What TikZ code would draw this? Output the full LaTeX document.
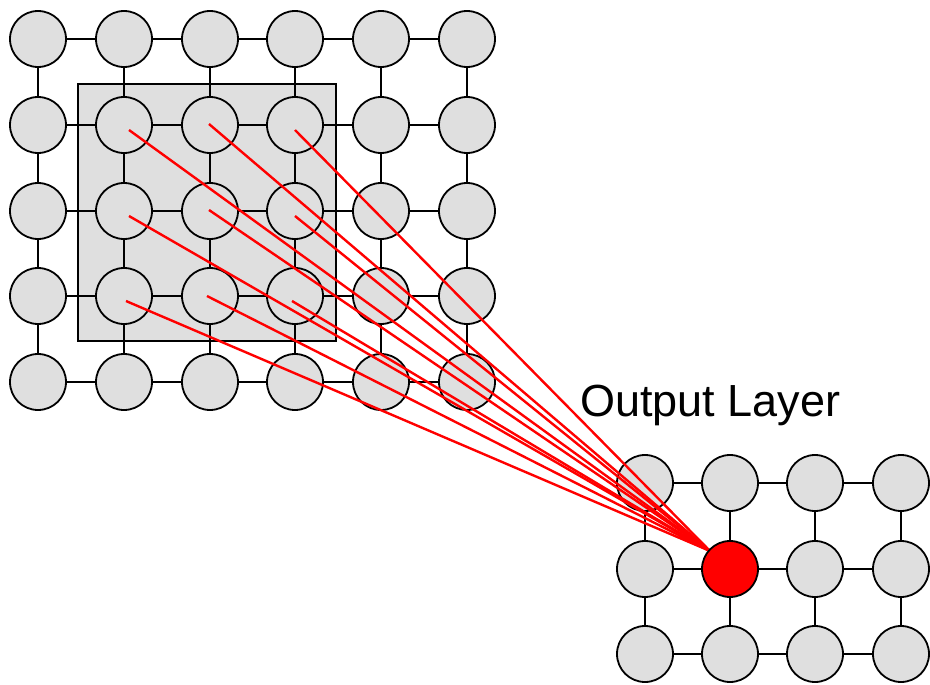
\documentclass[tikz,border=0pt]{standalone}
\usepackage{fontspec}
\setmainfont{Liberation Sans}
\pgfdeclarelayer{bg}
\pgfdeclarelayer{fg}
\pgfdeclarelayer{top}
\pgfsetlayers{bg,main,fg,top}
\definecolor{cellgray}{HTML}{DFDFDF}
\begin{document}
\begin{tikzpicture}[x=1pt,y=-1pt,
  cell/.style={circle,draw=black,fill=cellgray,line width=1.8pt,minimum size=56pt,inner sep=0pt},
  hot/.style={cell,fill=red},
  link/.style={draw=black,line width=1.8pt},
  ray/.style={draw=red,line width=2.4pt},
  frame/.style={draw=black,fill=cellgray,line width=2.4pt}]
\useasboundingbox (0,0) rectangle (930,685);

% receptive field box
\begin{pgfonlayer}{bg}
\path[frame] (78,84) rectangle (336,341);
\end{pgfonlayer}

% input layer nodes
\foreach \c/\x in {0/38,1/124,2/210,3/295,4/381,5/467}
  \foreach \r/\y in {0/39,1/125,2/211,3/296,4/382}
    \node[cell] (i\c\r) at (\x,\y) {};

% output layer nodes
\foreach \c/\x in {0/645,1/730,2/815,3/901}
  \foreach \r/\y in {0/483,1/569,2/654}
    {\ifnum\c\r=11 \else \node[cell] (o\c\r) at (\x,\y) {};\fi}
\begin{pgfonlayer}{top}
\node[hot] (o11) at (730,569) {};
\end{pgfonlayer}

% input grid links
\foreach \c in {0,...,4}
  \foreach \r in {0,...,4}
    {\pgfmathtruncatemacro\nxt{\c+1}\draw[link] (i\c\r) -- (i\nxt\r);}
\foreach \c in {0,...,5}
  \foreach \r in {0,...,3}
    {\pgfmathtruncatemacro\nxt{\r+1}\draw[link] (i\c\r) -- (i\c\nxt);}

% output grid links
\foreach \c in {0,...,2}
  \foreach \r in {0,...,2}
    {\pgfmathtruncatemacro\nxt{\c+1}\draw[link] (o\c\r) -- (o\nxt\r);}
\foreach \c in {0,...,3}
  \foreach \r in {0,...,1}
    {\pgfmathtruncatemacro\nxt{\r+1}\draw[link] (o\c\r) -- (o\c\nxt);}

% label
\node[anchor=base west,inner sep=0pt,font=\fontsize{45}{52}\selectfont] (title) at (580,416) {Output Layer};

% rays from the receptive field to the output unit
\coordinate (apex) at (710,551);
\begin{pgfonlayer}{fg}
\foreach \c/\r/\dx/\dy in {1/1/5/5,2/1/-1/-1,3/1/0/5,1/2/5/5,2/2/-1/-1,3/2/0/5,1/3/2/5,2/3/-3/0,3/3/-3/5}
  \draw[ray] ([shift={(\dx,\dy)}]i\c\r.center) -- (apex);
\end{pgfonlayer}
\end{tikzpicture}
\end{document}
